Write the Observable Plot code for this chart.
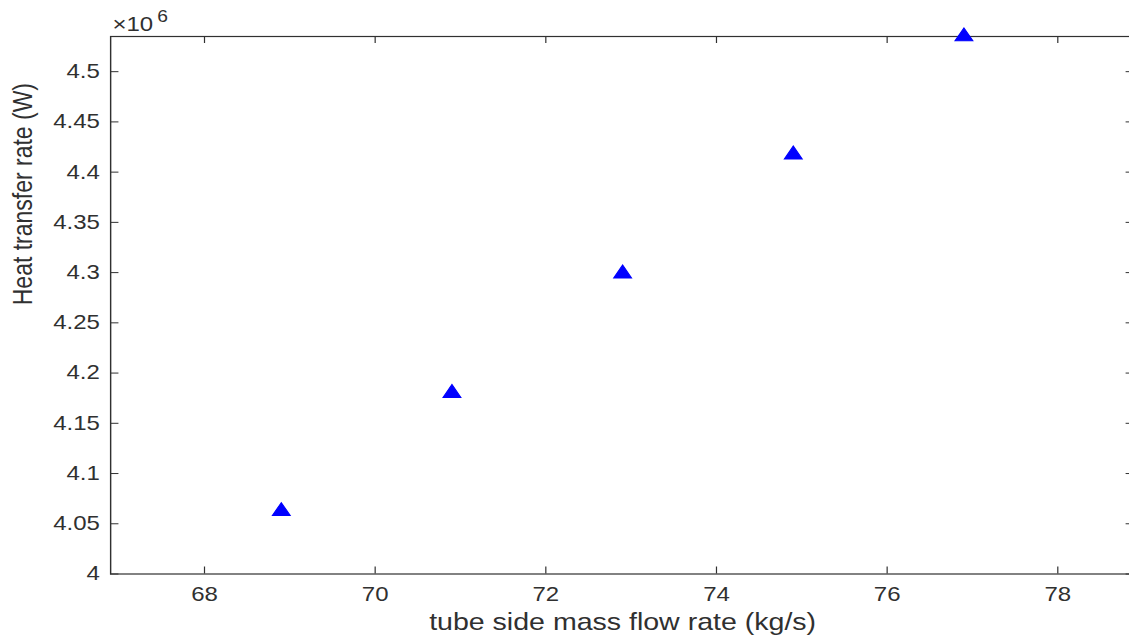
<!DOCTYPE html>
<html>
<head>
<meta charset="utf-8">
<script src="https://cdn.jsdelivr.net/npm/d3@7"></script>
<script src="https://cdn.jsdelivr.net/npm/@observablehq/plot@0.6"></script>
<style>
  html, body { margin: 0; padding: 0; background: #fff; overflow: hidden; width: 1129px; height: 642px; }
  #wrap { transform: scaleX(1.2); transform-origin: 0 0; width: 945px; }
</style>
</head>
<body>
<div id="wrap"></div>
<script>
// ---- data ----
const massFlow = [68.9, 70.9, 72.9, 74.9, 76.9];            // kg/s
const heatRate = [4.0625, 4.180, 4.299, 4.4174, 4.535];     // x 10^6 W
const xTicks = [68, 70, 72, 74, 76, 78];
const yTicks = [4, 4.05, 4.1, 4.15, 4.2, 4.25, 4.3, 4.35, 4.4, 4.45, 4.5];
const xLabel = "tube side mass flow rate (kg/s)";
const yLabel = "Heat transfer rate (W)";
const exponentBase = "×10";
const exponentPower = "6";

// ---- layout ----
const W = 945, H = 642, mL = 91.7, mR = 0, mT = 36, mB = 68.5;
const frameW = W - mL - mR, frameH = H - mT - mB;
const tickLen = 7;
const axisColor = "#303030";
const font = "'Liberation Sans', Arial, Helvetica, sans-serif";

const data = massFlow.map((x, i) => ({x, y: heatRate[i]}));
const fmt = d3.format("~g");

const chart = Plot.plot({
  width: W, height: H,
  marginLeft: mL, marginRight: mR, marginTop: mT, marginBottom: mB,
  style: {fontFamily: font, fontSize: "20px", color: axisColor, background: "#fff", maxWidth: "none", overflow: "visible"},
  x: {domain: [66.9, 78.9], label: null},
  y: {domain: [4, 4.535], label: null},
  marks: [
    Plot.ruleX(xTicks, {x: d => d, insetTop: frameH - tickLen, stroke: axisColor}),
    Plot.ruleX(xTicks, {x: d => d, insetBottom: frameH - tickLen, stroke: axisColor}),
    Plot.ruleY(yTicks, {y: d => d, insetRight: frameW - tickLen, stroke: axisColor}),
    Plot.ruleY(yTicks, {y: d => d, insetLeft: frameW - tickLen, stroke: axisColor}),
    Plot.frame({stroke: axisColor, strokeWidth: 1.2}),
    Plot.axisX(xTicks, {tickSize: 0, tickPadding: 13, label: null, fontSize: 20, fill: axisColor, tickFormat: fmt}),
    Plot.axisY(yTicks, {tickSize: 0, tickPadding: 9, label: null, fontSize: 20, fill: axisColor, tickFormat: fmt}),
    Plot.dot(data, {x: "x", y: "y", symbol: "triangle", r: 5.5, fill: "#0000ff", stroke: "#0000ff", strokeWidth: 1}),
    Plot.text([xLabel], {frameAnchor: "bottom", dy: 48.5, lineAnchor: "middle", fontSize: 23.8, fill: axisColor}),
    Plot.text([yLabel], {frameAnchor: "left", dx: -72.5, rotate: -90, lineAnchor: "middle", fontSize: 23, fill: axisColor}),
    Plot.text([exponentBase], {frameAnchor: "top-left", textAnchor: "start", lineAnchor: "bottom", dx: 1.5, dy: -5.3, fontSize: 20, fill: axisColor}),
    Plot.text([exponentPower], {frameAnchor: "top-left", textAnchor: "start", lineAnchor: "bottom", dx: 38.9, dy: -14.3, fontSize: 16, fill: axisColor})
  ]
});
document.getElementById("wrap").appendChild(chart);
</script>
</body>
</html>
